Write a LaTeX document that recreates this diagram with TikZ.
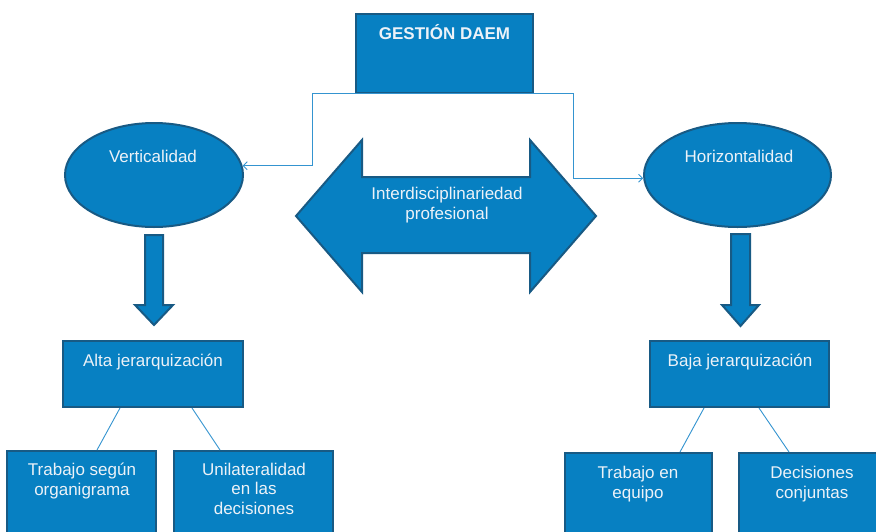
\documentclass[tikz,border=0pt]{standalone}
\usepackage{fontspec}
\setmainfont{Liberation Sans}
\usetikzlibrary{arrows.meta,shapes.geometric}
\definecolor{daemblue}{RGB}{7,128,194}
\definecolor{daemdark}{RGB}{24,90,132}
\definecolor{daemline}{RGB}{52,148,208}
\definecolor{daemtext}{RGB}{236,242,248}
\tikzset{
  box/.style={draw=daemdark,fill=daemblue,line width=2pt,inner sep=0pt},
  oval/.style={ellipse,draw=daemdark,fill=daemblue,line width=2pt,inner sep=0pt},
  blockarrow/.style={draw=daemdark,fill=daemblue,line width=2pt,line join=miter},
  lbl/.style={text=daemtext,font=\fontsize{17}{19.5}\selectfont,align=center,inner sep=0pt,anchor=base},
  link/.style={draw=daemline,line width=0.9pt}
}
\begin{document}
\begin{tikzpicture}[x=1pt,y=-1pt]
\useasboundingbox (0,0) rectangle (876,531);
\clip (0,0) rectangle (876,531);
\node[box,minimum width=177pt,minimum height=79pt] (gestion) at (444.5,53.5) {};
\node[lbl,font=\fontsize{17}{20}\selectfont\bfseries] (gestion-t) at (444.5,39) {GESTIÓN DAEM};
\node[oval,minimum width=178pt,minimum height=104pt] (vert) at (154,175) {};
\node[lbl] (vert-t) at (153,162) {Verticalidad};
\node[oval,minimum width=187pt,minimum height=104pt] (horiz) at (737.5,175) {};
\node[lbl] (horiz-t) at (739,162) {Horizontalidad};
\coordinate (gl) at (312,93);
\coordinate (gr) at (573,93);
\draw[link] (gl) -- (gr);
\draw[link,-{Straight Barb[length=4pt,width=8pt]}] (gl) |- (vert.6);
\draw[link,-{Straight Barb[length=4pt,width=8pt]}] (gr) |- (horiz.182);
\draw[blockarrow] (296,216) -- (362,140) -- (362,177) -- (530,177) -- (530,140) -- (596,216)
  -- (530,292) -- (530,253) -- (362,253) -- (362,292) -- cycle;
\node[lbl] (inter-t) at (447,219) {Interdisciplinariedad\\profesional};
\draw[blockarrow] (145,235) -- (163,235) -- (163,305) -- (173,305) -- (154,325) -- (135,305) -- (145,305) -- cycle;
\draw[blockarrow] (731,234) -- (750,234) -- (750,305) -- (759,305) -- (740.5,326) -- (722,305) -- (731,305) -- cycle;
\node[box,minimum width=180pt,minimum height=66pt] (alta) at (153,374) {};
\node[lbl] (alta-t) at (153,366) {Alta jerarquización};
\node[box,minimum width=179pt,minimum height=66pt] (baja) at (739.5,374) {};
\node[lbl] (baja-t) at (740,366) {Baja jerarquización};
\node[box,minimum width=149pt,minimum height=109pt] (organig) at (81.5,505.5) {};
\node[lbl] (organig-t) at (82,495) {Trabajo según\\organigrama};
\node[box,minimum width=159pt,minimum height=109pt] (unilat) at (253.5,505.5) {};
\node[lbl] (unilat-t) at (254,514) {Unilateralidad\\en las\\decisiones};
\node[box,minimum width=147pt,minimum height=107pt] (equipo) at (638.5,506.5) {};
\node[lbl] (equipo-t) at (638,498) {Trabajo en\\equipo};
\node[box,minimum width=161pt,minimum height=107pt] (conjun) at (819.5,506.5) {};
\node[lbl] (conjun-t) at (812,498) {Decisiones\\conjuntas};
\draw[link] (alta.south -| 120,0) -- (organig.north -| 97,0);
\draw[link] (alta.south -| 192,0) -- (unilat.north -| 220,0);
\draw[link] (baja.south -| 704,0) -- (equipo.north -| 680,0);
\draw[link] (baja.south -| 759,0) -- (conjun.north -| 789,0);
\end{tikzpicture}
\end{document}
